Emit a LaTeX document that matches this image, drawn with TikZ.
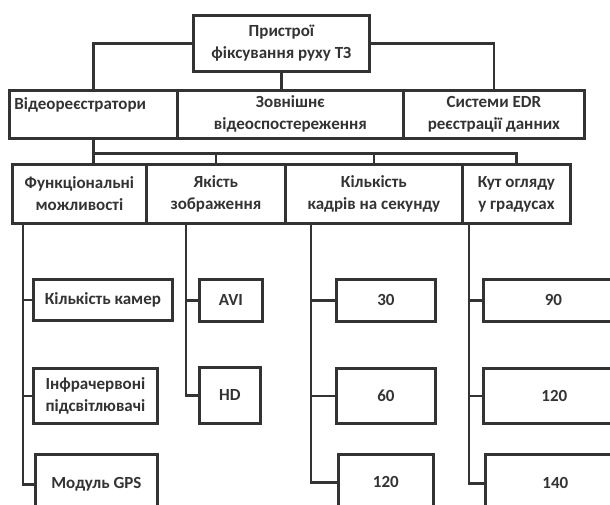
\documentclass[tikz,border=0pt]{standalone}
\usepackage{fontspec}
\setmainfont{Carlito}
\usetikzlibrary{positioning}
\definecolor{linegray}{HTML}{333333}

\begin{document}
\begin{tikzpicture}[x=1pt, y=-1pt,
    box/.style={draw=linegray, line width=2.8pt, anchor=north west, inner sep=2pt,
        text=linegray, align=center, font=\bfseries\fontsize{17}{22}\selectfont},
    link/.style={draw=linegray, line width=2.8pt}]
    \useasboundingbox (0,0) rectangle (610,505);
    \clip (0,0) rectangle (610,505);
    % top
    \node[box, minimum width=176pt, minimum height=56pt] (root) at (192,14) {Пристрої\\фіксування руху ТЗ};
    % second row
    \node[box, minimum width=168pt, minimum height=48pt, text width=158pt, inner xsep=5pt, align=left] (dvr) at (8,89) {Відеореєстратори\\\mbox{}};
    \node[box, minimum width=226pt, minimum height=48pt] (ext) at (176,89) {Зовнішнє\\відеоспостереження};
    \node[box, minimum width=181pt, minimum height=48pt] (edr) at (402,89) {Системи EDR\\реєстрації данних};
    \draw[link] (root.west) -| (dvr.north);
    \draw[link] (root.east) -| (edr.north);
    \draw[link] (root.south) -- (root.south |- ext.north);
    % third row
    \node[box, minimum width=134pt, minimum height=59pt] (func) at (11,163) {Функціональні\\можливості};
    \node[box, minimum width=139pt, minimum height=59pt] (qual) at (145,163) {Якість\\зображення};
    \node[box, minimum width=177pt, minimum height=59pt] (fps) at (284,163) {Кількість\\кадрів на секунду};
    \node[box, minimum width=108pt, minimum height=59pt] (angle) at (461,163) {Кут огляду\\у градусах};
    \coordinate[below=14pt of dvr.south] (hub);
    \draw[link] (dvr.south) -- (hub |- func.north);
    \foreach \n in {qual,fps,angle}
        \draw[link] (hub) -| (\n.north);
    % leaves
    \node[box, minimum width=139pt, minimum height=41pt] (cams) at (32,278) {Кількість камер};
    \node[box, minimum width=124pt, minimum height=55pt] (ir) at (32,367) {Інфрачервоні\\підсвітлювачі};
    \node[box, minimum width=122pt, minimum height=60pt] (gps) at (34,453) {Модуль GPS};
    \node[box, minimum width=63pt, minimum height=42pt] (avi) at (198,278) {AVI};
    \node[box, minimum width=61pt, minimum height=56pt] (hd) at (198,366) {HD};
    \node[box, minimum width=99pt, minimum height=42pt] (f30) at (335,278) {30};
    \node[box, minimum width=99pt, minimum height=55pt] (f60) at (335,367) {60};
    \node[box, minimum width=95pt, minimum height=56pt] (f120) at (337,453) {120};
    \node[box, minimum width=140pt, minimum height=42pt] (a90) at (482,278) {90};
    \node[box, minimum width=142pt, minimum height=55pt] (a120) at (482,367) {120};
    \node[box, minimum width=140pt, minimum height=58pt] (a140) at (484,453) {140};
    \coordinate (s1) at (23,222);
    \coordinate (s2) at (186,222);
    \coordinate (s3) at (311,222);
    \coordinate (s4) at (469,222);
    \foreach \b in {cams,ir,gps} \draw[link] (s1) |- (\b.west);
    \foreach \b in {avi,hd} \draw[link] (s2) |- (\b.west);
    \foreach \b in {f30,f60,f120} \draw[link] (s3) |- (\b.west);
    \foreach \b in {a90,a120,a140} \draw[link] (s4) |- (\b.west);
\end{tikzpicture}
\end{document}
